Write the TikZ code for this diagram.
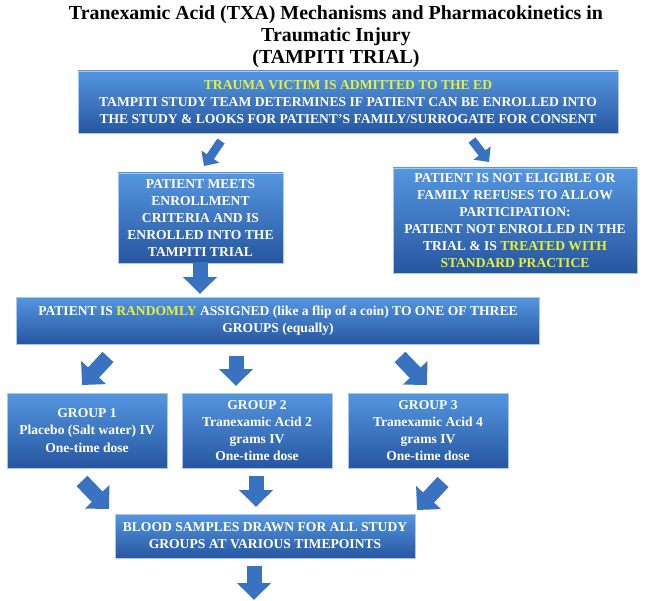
\documentclass[tikz,border=0pt]{standalone}
\usepackage{fontspec}
\setmainfont{Liberation Serif}
\usetikzlibrary{arrows.meta}
\definecolor{boxtop}{HTML}{5596E0}
\definecolor{boxbot}{HTML}{2756A0}
\definecolor{boxedge}{HTML}{A9C8EC}
\definecolor{arrblue}{HTML}{3A72C2}
\definecolor{ylw}{HTML}{E8F03A}
\newcommand{\pxl}{0.3mm}

\begin{document}
\begin{tikzpicture}[x=\pxl, y=-\pxl,
  stage/.style 2 args={draw=boxedge, line width=0.6pt, top color=boxtop, bottom color=boxbot,
    text=white, align=center, inner sep=0pt, minimum width=#1*\pxl, minimum height=#2*\pxl,
    font=\fontsize{11.6}{14.6}\selectfont\bfseries},
  bigarr/.style={draw=arrblue, line width=4.5mm, -{Triangle[width=9.9mm, length=5.1mm]}},
  smallarr/.style={draw=arrblue, line width=2.6mm, -{Triangle[width=6.3mm, length=3.4mm]}}]
\useasboundingbox (0,0) rectangle (646,601);

% title
\node[align=center, font=\fontsize{17}{18.6}\selectfont\bfseries] (title) at (336,37)
  {Tranexamic Acid (TXA) Mechanisms and Pharmacokinetics in\\Traumatic Injury\\(TAMPITI TRIAL)};

% boxes
\node[stage={540}{62}] (admit) at (348,102)
  {{\color{ylw}TRAUMA VICTIM IS ADMITTED TO THE ED}\\
   TAMPITI STUDY TEAM DETERMINES IF PATIENT CAN BE ENROLLED INTO\\
   THE STUDY \& LOOKS FOR PATIENT'S FAMILY/SURROGATE FOR CONSENT};
\node[stage={165}{90}] (meets) at (200.5,218)
  {PATIENT MEETS\\ENROLLMENT\\CRITERIA AND IS\\ENROLLED INTO THE\\TAMPITI TRIAL};
\node[stage={244}{105}] (noelig) at (515,220.5)
  {PATIENT IS NOT ELIGIBLE OR\\FAMILY REFUSES TO ALLOW\\PARTICIPATION:\\PATIENT NOT ENROLLED IN THE\\
   TRIAL \& IS {\color{ylw}TREATED WITH}\\{\color{ylw}STANDARD PRACTICE}};
\node[stage={523}{47}] (random) at (278,320.5)
  {PATIENT IS {\color{ylw}RANDOMLY} ASSIGNED (like a flip of a coin) TO ONE OF THREE\\GROUPS (equally)};
\node[stage={160}{75}] (grp1) at (87,430.5) {GROUP 1\\Placebo (Salt water) IV\\One-time dose};
\node[stage={150}{75}] (grp2) at (257,430.5) {GROUP 2\\Tranexamic Acid 2\\grams IV\\One-time dose};
\node[stage={160}{75}] (grp3) at (428,430.5) {GROUP 3\\Tranexamic Acid 4\\grams IV\\One-time dose};
\node[stage={300}{44}] (blood) at (265,536)
  {BLOOD SAMPLES DRAWN FOR ALL STUDY\\GROUPS AT VARIOUS TIMEPOINTS};

% arrows
\coordinate (s1) at (221,141); \coordinate (e1) at (204,166);
\coordinate (s2) at (472,140); \coordinate (e2) at (489,162);
\draw[smallarr] (s1) -- (e1);
\draw[smallarr] (s2) -- (e2);
\foreach \n/\xa/\ya/\xb/\yb in {a3/200/262/200/294, a4/108/357/82/385, a5/236/356/236/386,
  a6/400/357/427/385, a7/82/481/109/509, a8/256/476/256/507, a9/443/482/417/510, a10/254/566/254/600}
  {\coordinate (\n-s) at (\xa,\ya); \coordinate (\n-e) at (\xb,\yb);
   \draw[bigarr] (\n-s) -- (\n-e);}
\end{tikzpicture}
\end{document}
